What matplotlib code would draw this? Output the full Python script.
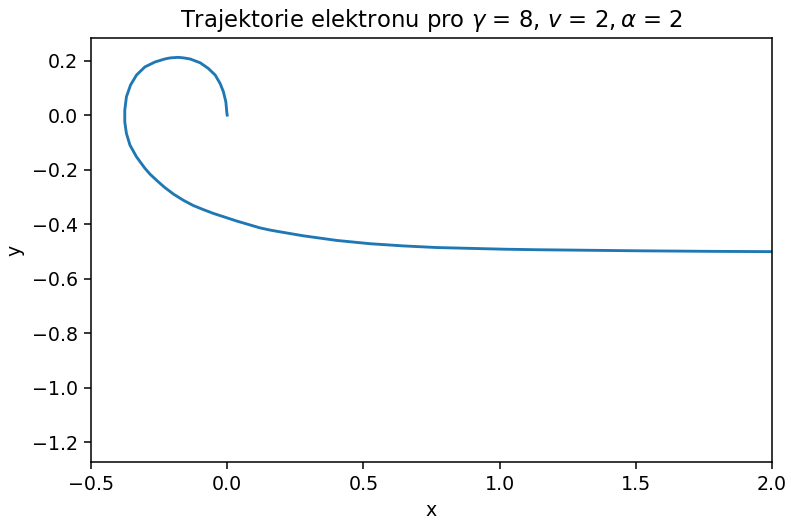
import matplotlib.pyplot as plt

# trajectory points
x = [0.0, -0.001, -0.005, -0.014, -0.026, -0.044, -0.069, -0.099, -0.136, -0.160,
     -0.180, -0.209, -0.229, -0.265, -0.302, -0.333, -0.355, -0.370, -0.376, -0.376,
     -0.370, -0.357, -0.333, -0.303, -0.283, -0.255, -0.230, -0.197, -0.160, -0.124,
     -0.087, -0.050, 0.036, 0.121, 0.158, 0.192, 0.280, 0.403, 0.525, 0.647,
     0.770, 0.892, 1.014, 1.137, 1.326, 1.516, 1.784, 2.001, 2.300]
y = [0.0, 0.006, 0.049, 0.086, 0.116, 0.147, 0.171, 0.192, 0.206, 0.210,
     0.212, 0.210, 0.206, 0.195, 0.177, 0.147, 0.110, 0.067, 0.018, -0.025,
     -0.067, -0.110, -0.153, -0.194, -0.217, -0.243, -0.265, -0.290, -0.313, -0.332,
     -0.347, -0.361, -0.389, -0.414, -0.422, -0.428, -0.443, -0.460, -0.472, -0.480,
     -0.486, -0.489, -0.492, -0.494, -0.496, -0.498, -0.500, -0.501, -0.502]

fs = 13.7
plt.rcParams['font.size'] = fs
plt.rcParams['axes.linewidth'] = 1.1

fig = plt.figure(figsize=(7.91, 5.21), dpi=100)
ax = fig.add_axes([91 / 791, 59 / 521, 681 / 791, 424 / 521])
ax.plot(x, y, color='#1f77b4', linewidth=2.05)
ax.set_xlim(-0.5, 2.0)
ax.set_ylim(-1.273, 0.283)
ax.set_xticks([-0.5, 0.0, 0.5, 1.0, 1.5, 2.0])
ax.set_yticks([0.2, 0.0, -0.2, -0.4, -0.6, -0.8, -1.0, -1.2])
ax.tick_params(length=4.8, width=1.1, labelsize=fs, pad=4.8)
ax.set_xlabel('x', fontsize=fs, labelpad=5)
ax.set_ylabel('y', fontsize=fs, labelpad=5)
ax.set_title(r'Trajektorie elektronu pro $\gamma$ = 8, $v$ = 2$,\alpha$ = 2', fontsize=16.4, pad=8)

fig.savefig('out.png', dpi=100)
